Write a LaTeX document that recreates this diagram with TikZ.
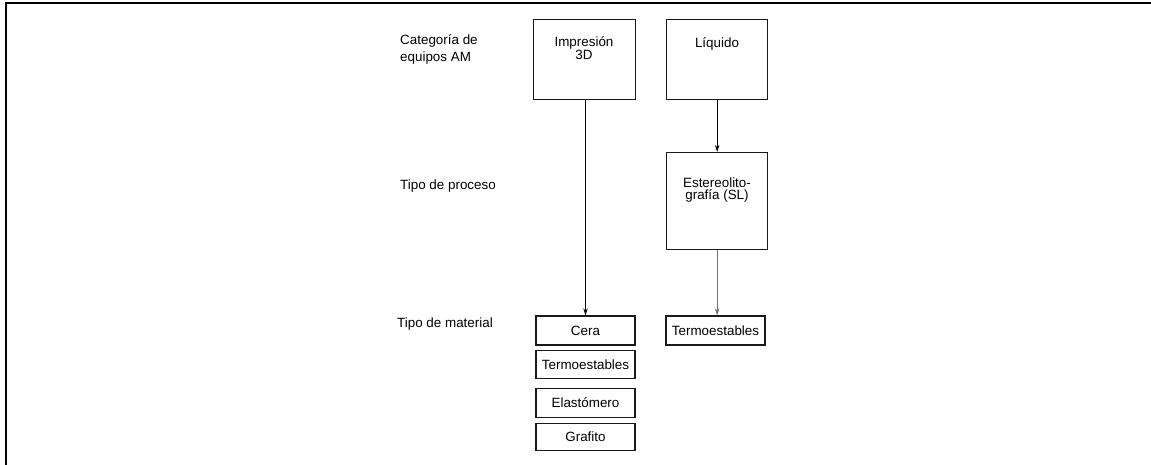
\documentclass[tikz,border=0pt]{standalone}
\usepackage{fontspec}
\setmainfont{Liberation Sans}
\usetikzlibrary{arrows.meta}
\begin{document}
\begin{tikzpicture}[x=1pt,y=-1pt,
  txt/.style={font=\fontsize{13.4}{12.5}\selectfont, inner sep=0pt, text=black},
  lbl/.style={txt, anchor=west, align=left},
  box/.style={draw=black!90, line width=1.3pt, anchor=north west, inner sep=0pt},
  mat/.style={box, txt, anchor=center, align=center},
  arr/.style={line width=0.9pt, -{Stealth[length=7pt,width=4.5pt]}}]
\useasboundingbox (0,0) rectangle (1151,465);

% page frame (top and left edges only)
\draw[line width=2pt, line join=miter] (6,465) -- (6,3) -- (1151,3);

% row captions
\node[lbl, font=\fontsize{13.4}{17}\selectfont] (capA) at (400,49.5) {Categoría de\\equipos AM};
\node[lbl] (capB) at (400,186) {Tipo de proceso};
\node[lbl] (capC) at (397,324) {Tipo de material};

% equipment categories
\node[box, minimum width=102pt, minimum height=80pt] (imp) at (533,19) {};
\node[txt, align=center] (impT) at (584,48) {Impresión\\3D};
\node[box, minimum width=101pt, minimum height=80pt] (liq) at (666,19) {};
\node[txt] (liqT) at (717,44) {Líquido};

% process type
\node[box, minimum width=101pt, minimum height=97pt] (sl) at (666,152) {};
\node[txt, align=center] (slT) at (717,190) {Estereolito-\\grafía (SL)};

% material types
\node[mat, minimum width=99pt, minimum height=29pt] (cera) at (585.5,330.5) {Cera};
\node[mat, minimum width=99pt, minimum height=27.5pt] (termA) at (585.5,364.5) {Termoestables};
\node[mat, minimum width=99pt, minimum height=29.5pt] (elas) at (585.5,403) {Elastómero};
\node[mat, minimum width=99pt, minimum height=27.5pt] (graf) at (585.5,437) {Grafito};
\node[mat, minimum width=99pt, minimum height=29pt] (termB) at (715.5,330.5) {Termoestables};

% connectors
\draw[arr] (imp.south -| cera.north) -- (cera.north);
\draw[arr] (liq.south) -- (sl.north);
\draw[arr, draw=black!55, fill=black!80] (sl.south) -- (sl.south |- termB.north);
\end{tikzpicture}
\end{document}
